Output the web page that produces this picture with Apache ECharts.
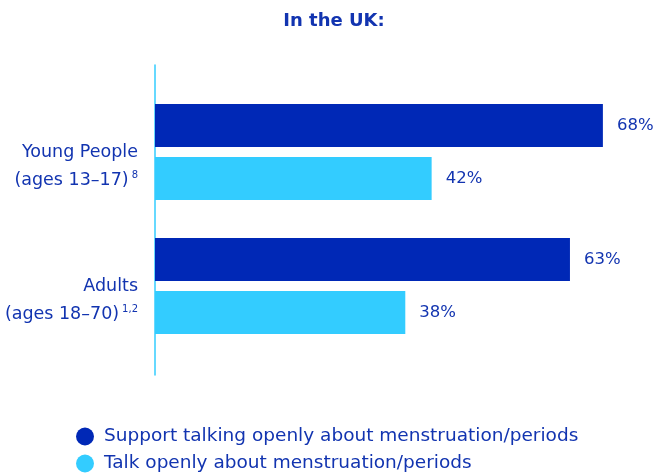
<!DOCTYPE html>
<html>
<head>
<meta charset="utf-8">
<style>
  html, body { margin: 0; padding: 0; background: #ffffff; }
  #chart { width: 668px; height: 473px; }
</style>
<script src="https://cdn.jsdelivr.net/npm/echarts@6/dist/echarts.min.js"></script>
</head>
<body>
<div id="chart"></div>
<script>
// Groups shown on the vertical axis (top to bottom)
const groups = ['young', 'adults'];
const groupLines = {
  young: ['Young People', '(ages 13–17)', '8'],
  adults: ['Adults', '(ages 18–70)', '1,2']
};

// Share of people (%) per group
const supportValues = [68, 63];
const talkValues = [42, 38];

const seriesNames = [
  'Support talking openly about menstruation/periods',
  'Talk openly about menstruation/periods'
];

const DARK = '#0028b6';
const LIGHT = '#33ccff';
const TEXT = '#1234b0';
const FONT = '"DejaVu Sans", sans-serif';

const chart = echarts.init(document.getElementById('chart'));

const valueLabel = {
  show: true,
  position: 'right',
  distance: 14,
  formatter: p => p.value + '%',
  color: TEXT,
  fontFamily: FONT,
  fontSize: 16.5
};

const legendText = { color: TEXT, fontFamily: FONT, fontSize: 18.5, padding: [0, 0, 0, 5] };

chart.setOption({
  backgroundColor: '#ffffff',
  animation: false,
  title: {
    text: 'In the UK:',
    left: 'center',
    top: 7,
    textStyle: { color: TEXT, fontFamily: FONT, fontSize: 18, fontWeight: 'bold' }
  },
  legend: [
    {
      left: 76, top: 427, padding: 0, icon: 'circle', itemWidth: 18, itemHeight: 18,
      data: [seriesNames[0]], textStyle: legendText
    },
    {
      left: 76, top: 454, padding: 0, icon: 'circle', itemWidth: 18, itemHeight: 18,
      data: [seriesNames[1]], textStyle: legendText
    }
  ],
  grid: [
    { left: 155, right: 19, top: 85, height: 268 },
    { left: 155, right: 19, top: 65, height: 310 }
  ],
  xAxis: [
    { type: 'value', gridIndex: 0, min: 0, max: 75, show: false },
    { type: 'value', gridIndex: 1, min: 0, max: 75, show: false }
  ],
  yAxis: [
    {
      type: 'category',
      gridIndex: 0,
      inverse: true,
      data: groups,
      axisLine: { show: false },
      axisTick: { show: false },
      axisLabel: {
        margin: 17,
        align: 'right',
        padding: [28, 0, 0, 0],
        formatter: v => '{m|' + groupLines[v][0] + '}\n{m|' + groupLines[v][1] + '}{s|' + groupLines[v][2] + '}',
        rich: {
          m: { color: TEXT, fontFamily: FONT, fontSize: 17.5, lineHeight: 28 },
          s: { color: TEXT, fontFamily: FONT, fontSize: 10, lineHeight: 12, verticalAlign: 'top', padding: [4, 0, 0, 3] }
        }
      }
    },
    {
      // plain vertical baseline for the bars
      type: 'category',
      gridIndex: 1,
      data: [''],
      axisLine: { show: true, lineStyle: { color: LIGHT, width: 1.5 } },
      axisTick: { show: false },
      axisLabel: { show: false }
    }
  ],
  series: [
    {
      name: seriesNames[0],
      type: 'bar',
      xAxisIndex: 0,
      yAxisIndex: 0,
      data: supportValues,
      barWidth: 43,
      barGap: '23%',
      itemStyle: { color: DARK },
      label: valueLabel
    },
    {
      name: seriesNames[1],
      type: 'bar',
      xAxisIndex: 0,
      yAxisIndex: 0,
      data: talkValues,
      barWidth: 43,
      barGap: '23%',
      itemStyle: { color: LIGHT },
      label: valueLabel
    }
  ]
});
</script>
</body>
</html>
